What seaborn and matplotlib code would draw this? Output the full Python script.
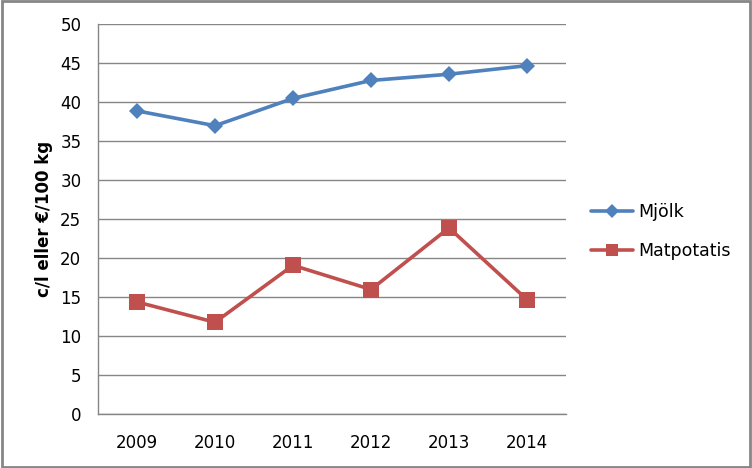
import numpy as np
import pandas as pd
import matplotlib.pyplot as plt
import seaborn as sns
from matplotlib.patches import Rectangle

years = ["2009", "2010", "2011", "2012", "2013", "2014"]
mjolk = [38.9, 37.0, 40.5, 42.8, 43.6, 44.7]
matpotatis = [14.4, 11.8, 19.1, 16.0, 23.9, 14.7]

sns.set_style("white")
plt.rcParams['font.family'] = ['DejaVu Sans']
plt.rcParams['text.color'] = 'black'
plt.rcParams['axes.labelcolor'] = 'black'

fig = plt.figure(figsize=(7.52, 4.68), dpi=100)
ax = fig.add_axes([98 / 752, 1 - 414.3 / 468, 468 / 752, 390 / 468])

pos = np.arange(len(years))
sns.lineplot(x=pos, y=mjolk, ax=ax, color="#4F81BD", linewidth=2.6,
             marker="D", markersize=8.5, markeredgewidth=0, label="Mjölk")
sns.lineplot(x=pos, y=matpotatis, ax=ax, color="#C0504D", linewidth=2.6,
             marker="s", markersize=11, markeredgewidth=0, label="Matpotatis")

ax.set_xlim(-0.5, len(years) - 0.5)
ax.set_ylim(0, 50)
ax.set_yticks(range(0, 51, 5))
ax.set_xticks(pos)
ax.set_xticklabels(years)
ax.tick_params(axis="both", length=0, labelsize=12, colors="black")
ax.tick_params(axis="x", pad=14)
ax.tick_params(axis="y", pad=12)
ax.yaxis.grid(True, color="#868686", linewidth=1)
ax.xaxis.grid(False)
for s in ["top", "right"]:
    ax.spines[s].set_visible(False)
for s in ["left", "bottom"]:
    ax.spines[s].set_color("#868686")
    ax.spines[s].set_linewidth(1)

ax.set_ylabel("c/l eller €/100 kg", fontsize=12, fontweight="bold", labelpad=5,
              color="black")

leg = ax.legend(loc="center left", bbox_to_anchor=(1.02, 0.468), frameon=False,
                fontsize=12.5, handlelength=2.4, handletextpad=0.3,
                labelspacing=1.2, markerscale=0.8)
for t in leg.get_texts():
    t.set_color("black")

fig.patches.append(Rectangle((0.002, 0.003), 0.995, 0.994, transform=fig.transFigure,
                             fill=False, edgecolor="#868686", linewidth=2))

fig.savefig("out.png", dpi=100)
